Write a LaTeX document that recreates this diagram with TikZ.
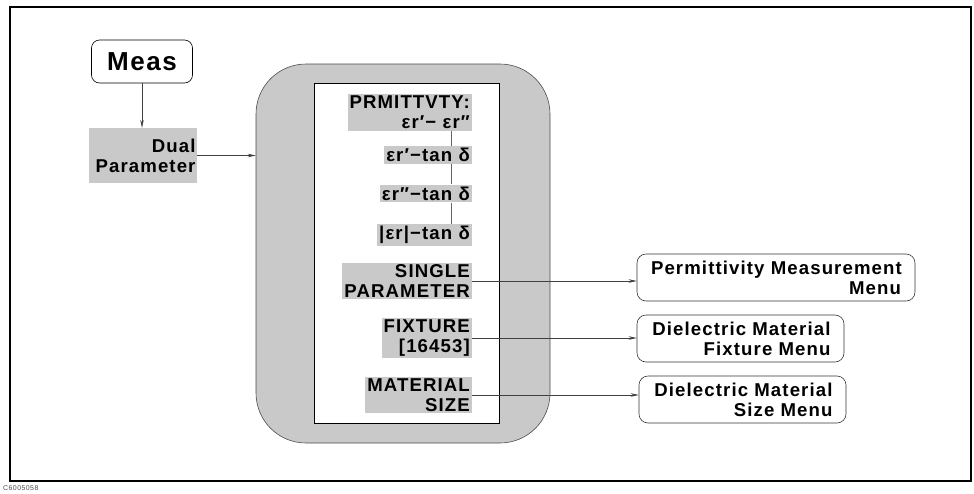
\documentclass[tikz,border=0pt]{standalone}
\usepackage{fontspec}
\setmainfont{Liberation Sans}[LetterSpace=6]
\usetikzlibrary{arrows.meta}
\definecolor{shade}{gray}{0.79}
\begin{document}
\begin{tikzpicture}[x=1pt,y=-1pt,
  font=\bfseries\fontsize{18.6}{20}\selectfont,
  arr/.style={draw=black!75, line width=0.6pt, -{Stealth[length=8pt,width=3.5pt]}},
  item/.style={fill=shade, inner sep=2pt, align=right, anchor=east},
  menu/.style={draw=black!80, line width=0.6pt, rounded corners=9pt, fill=white, align=right, minimum height=47pt, inner ysep=3pt}]
\useasboundingbox (0,0) rectangle (974,493);
\draw[line width=2pt] (10,7) rectangle (971,481);
\node[anchor=west, font=\mdseries\fontsize{7}{8}\selectfont, text=black!70, inner sep=0pt] (code) at (3,488) {C6005058};

\node[draw, line width=0.6pt, rounded corners=8pt, minimum width=101pt, minimum height=43pt, inner sep=0pt, font=\bfseries\fontsize{26}{28}\selectfont] (meas) at (142,61.5) {Meas};
\node[fill=shade, minimum width=108pt, minimum height=55pt, text width=105pt, align=right, inner xsep=1.5pt, inner ysep=0pt] (dual) at (143,155.5) {Dual\\Parameter};
\draw[arr] (meas.south) -- (meas.south |- dual.north);

\node[draw=black!70, line width=0.6pt, fill=shade, rounded corners=50pt, minimum width=294pt, minimum height=379pt] (big) at (403,253.5) {};
\node[draw, fill=white, line width=0.7pt, minimum width=185pt, minimum height=340pt] (inner) at (406.5,253.5) {};
\draw[arr] (dual.east) -- (dual.east -| big.west);

\node[item] (prm) at (472,112.5) {PRMITTVTY:\\εr′− εr″};
\node[item] (e1) at (472,155) {εr′−tan δ};
\node[item] (e2) at (472,193.5) {εr″−tan δ};
\node[item] (e3) at (472,235) {|εr|−tan δ};
\node[item] (single) at (472,281) {SINGLE\\PARAMETER};
\node[item] (fixture) at (472,338) {FIXTURE\\{[16453]}};
\node[item] (material) at (472,395) {MATERIAL\\SIZE};

\coordinate (vx) at (451,0);
\draw[black!60, line width=0.6pt] (prm.south -| vx) -- (e1.north -| vx);
\draw[black!60, line width=0.6pt] (e1.south -| vx) -- (e2.north -| vx);
\draw[black!60, line width=0.6pt] (e2.south -| vx) -- (e3.north -| vx);

\node[menu, minimum width=278pt, text width=250pt] (pmm) at (776,277.5) {Permittivity Measurement\\Menu};
\node[menu, minimum width=207pt, text width=180pt] (dfm) at (740.5,338.5) {Dielectric Material\\Fixture Menu};
\node[menu, minimum width=207pt, text width=180pt] (dsm) at (742.5,399.5) {Dielectric Material\\Size Menu};

\draw[arr] (single.east) -- (single.east -| pmm.west);
\draw[arr] (fixture.east) -- (fixture.east -| dfm.west);
\draw[arr] (material.east) -- (material.east -| dsm.west);
\end{tikzpicture}
\end{document}
